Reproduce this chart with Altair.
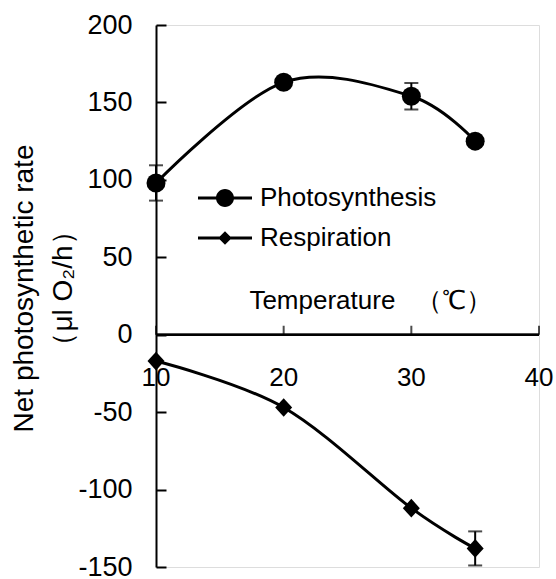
import altair as alt
import pandas as pd

# ---- data ----
temps = [10, 20, 30, 35]
photo = [98, 163, 154, 125]
photo_err = [11.4, 0, 8.6, 0]
resp = [-17, -47, -112, -138]
resp_err = [0, 0, 0, 11]
series_names = ["Photosynthesis", "Respiration"]
y_ticks = [-150, -100, -50, 0, 50, 100, 150, 200]
x_ticks = [10, 20, 30, 40]

rows = []
for name, vals, errs in [(series_names[0], photo, photo_err), (series_names[1], resp, resp_err)]:
    for t, v, e in zip(temps, vals, errs):
        rows.append({"series": name, "temp": t, "value": v, "err": e,
                     "lo": v - e, "hi": v + e})
df = pd.DataFrame(rows)
xt = pd.DataFrame({"t": x_ticks, "lab": [str(v) for v in x_ticks]})

W, H = 383, 542
FONT = "Liberation Sans"
x_lo, x_hi = x_ticks[0], x_ticks[-1]

xscale = alt.Scale(domain=[x_lo, x_hi], nice=False, zero=False)
yscale = alt.Scale(domain=[-150, 200], nice=False, zero=False)

# real bottom axis used only for its title
x_axis = alt.Axis(
    orient="bottom", domain=False, ticks=False, labels=False, grid=False,
    title="Temperature \u2002（℃）", titleFontSize=26, titleFontWeight="normal",
    titleColor="black", titleX=214, titleY=-259, titleAlign="center",
    titleBaseline="alphabetic", titleFont=FONT,
)
X = alt.X("temp:Q", scale=xscale, axis=x_axis)

# left axis; ticks point inward (negative size given through an expression)
y_axis_left = alt.Axis(
    orient="left", values=y_ticks, grid=False, ticks=True, tickSize=alt.expr("-10"),
    tickColor="black", tickWidth=2,
    domainColor="black", domainWidth=2, labelFontSize=27, labelColor="black",
    labelPadding=34, labelFont=FONT, labelOverlap=False, labelFlush=False,
    labelExpr="'' + datum.value",
    title=["Net photosynthetic rate", "（μl O₂/h）"], titleFontSize=28,
    titleFontWeight="normal", titleColor="black", titleLineHeight=39,
    titleX=-118, titleY=263, titleAlign="center", titleBaseline="bottom",
    titleAngle=270, titleFont=FONT,
)

base = alt.Chart(df)

lines = base.mark_line(interpolate="cardinal", tension=0, color="black", strokeWidth=3).encode(
    x=X, y=alt.Y("value:Q", scale=yscale, axis=y_axis_left), detail="series:N"
)

# x axis drawn at y = 0 through the scales
x_domain = alt.Chart(xt).mark_rule(color="black", strokeWidth=2).encode(
    x=alt.X(datum=x_lo, scale=xscale, axis=None),
    x2=alt.datum(x_hi),
    y=alt.Y(datum=0, scale=yscale, axis=None),
)
x_tickmarks = alt.Chart(xt).mark_tick(orient="vertical", color="black", size=9,
                                      thickness=2, yOffset=-4.5).encode(
    x=alt.X("t:Q", scale=xscale, axis=None),
    y=alt.Y(datum=0, scale=yscale, axis=None),
)
x_labels = alt.Chart(xt).mark_text(font=FONT, fontSize=26, color="black",
                                   baseline="alphabetic", align="center", dy=51).encode(
    x=alt.X("t:Q", scale=xscale, axis=None),
    y=alt.Y(datum=0, scale=yscale, axis=None),
    text="lab:N",
)

err = df[df["err"] > 0]
ebase = alt.Chart(err)
Xn = alt.X("temp:Q", scale=xscale, axis=None)
rules = ebase.mark_rule(color="black", strokeWidth=2).encode(
    x=Xn, y=alt.Y("lo:Q", scale=yscale, axis=None), y2="hi:Q"
)
cap_lo = ebase.mark_tick(orient="horizontal", color="black", size=14, thickness=2).encode(
    x=Xn, y=alt.Y("lo:Q", scale=yscale, axis=None)
)
cap_hi = ebase.mark_tick(orient="horizontal", color="black", size=14, thickness=2).encode(
    x=Xn, y=alt.Y("hi:Q", scale=yscale, axis=None)
)

circles = base.transform_filter(alt.datum.series == series_names[0]).mark_point(
    shape="circle", size=361, filled=True, color="black", opacity=1).encode(
    x=Xn, y=alt.Y("value:Q", scale=yscale, axis=None))
diamonds = base.transform_filter(alt.datum.series == series_names[1]).mark_point(
    shape="M0,-1.1L1,0L0,1.1L-1,0Z", size=289, filled=True, color="black", opacity=1).encode(
    x=Xn, y=alt.Y("value:Q", scale=yscale, axis=None))

legend_paths = [
    "M-3,-0.17L3,-0.17L3,0.17L-3,0.17ZM1,0A1,1,0,1,1,-1,0A1,1,0,1,1,1,0Z",
    "M-3,-0.17L3,-0.17L3,0.17L-3,0.17ZM0,-0.75L0.75,0L0,0.75L-0.75,0Z",
]
legend_layer = base.mark_point(filled=True, color="black", opacity=0, size=324).encode(
    x=Xn, y=alt.Y("value:Q", scale=yscale, axis=None),
    shape=alt.Shape("series:N", scale=alt.Scale(domain=series_names, range=legend_paths),
                    legend=alt.Legend(
                        orient="none", legendX=56, legendY=160, title=None,
                        symbolSize=324, symbolFillColor="black", symbolStrokeWidth=0,
                        symbolOpacity=1, labelFontSize=26, labelColor="black",
                        labelFont=FONT, labelOffset=22, labelLimit=400, rowPadding=14)),
)

chart = alt.layer(
    lines, x_domain, x_tickmarks, x_labels,
    rules, cap_lo, cap_hi, circles, diamonds, legend_layer
).resolve_axis(
    x="independent", y="independent"
).properties(
    width=W, height=H,
    autosize=alt.AutoSizeParams(type="none"),
    padding={"left": 156, "top": 25, "right": 17, "bottom": 12},
    background="white",
).configure_view(strokeWidth=0).configure(font=FONT)

chart.save("out.html", embed_options={"renderer": "svg", "actions": False})
